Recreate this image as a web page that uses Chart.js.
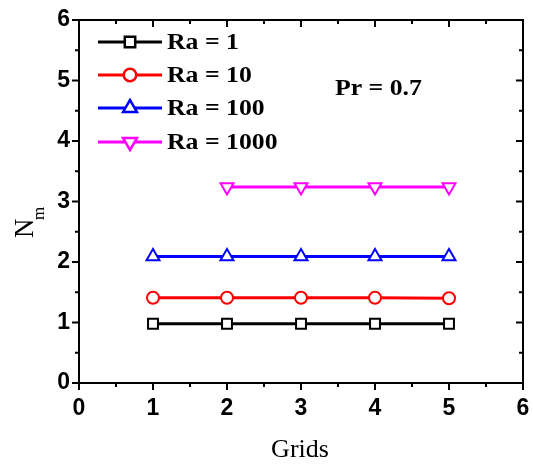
<!DOCTYPE html>
<html>
<head>
<meta charset="utf-8">
<script src="https://cdn.jsdelivr.net/npm/chart.js@4/dist/chart.umd.min.js"></script>
<style>
  html, body { margin: 0; padding: 0; background: #fff; }
  #wrap { width: 533px; height: 465px; }
</style>
</head>
<body>
<div id="wrap"><canvas id="chart" width="533" height="465"></canvas></div>
<script>
// data
const gridsA = [1, 2, 3, 4, 5];
const gridsB = [2, 3, 4, 5];
const ra1 = [0.98, 0.98, 0.98, 0.98, 0.98];
const ra10 = [1.41, 1.41, 1.41, 1.41, 1.40];
const ra100 = [2.09, 2.09, 2.09, 2.09, 2.09];
const ra1000 = [3.24, 3.24, 3.24, 3.24];
const seriesNames = ["Ra = 1", "Ra = 10", "Ra = 100", "Ra = 1000"];
const xTicks = [0, 1, 2, 3, 4, 5, 6];
const yTicks = [0, 1, 2, 3, 4, 5, 6];

const serif = "'Liberation Serif', 'Times New Roman', serif";
const sans = "'Liberation Sans', Arial, sans-serif";

function pts(xs, ys) {
  return xs.map((x, i) => ({ x: x, y: ys[i] }));
}

function series(label, xs, ys, color, style, radius, rot) {
  return {
    label: label,
    data: pts(xs, ys),
    borderColor: color,
    borderWidth: 3,
    pointStyle: style,
    pointRadius: radius,
    pointRotation: rot,
    pointBackgroundColor: "#fff",
    pointBorderColor: color,
    pointBorderWidth: 2,
    tension: 0,
  };
}

// text a little wider than the font, like the stretched original
function wideText(ctx, text, x, y) {
  ctx.save();
  ctx.translate(x, y);
  ctx.scale(1.12, 1);
  ctx.fillText(text, 0, 0);
  ctx.restore();
}

// frame, ticks, legend and annotation
const decor = {
  id: "decor",
  afterDraw(chart) {
    const ctx = chart.ctx;
    const a = chart.chartArea;
    const sx = chart.scales.x;
    const sy = chart.scales.y;
    ctx.save();
    ctx.strokeStyle = "#000";
    ctx.lineWidth = 2;
    ctx.strokeRect(a.left, a.top, a.right - a.left, a.bottom - a.top);

    ctx.beginPath();
    for (let v = 0; v <= 6; v += 0.5) {
      const len = Number.isInteger(v) ? 7 : 4;
      const px = sx.getPixelForValue(v);
      ctx.moveTo(px, a.bottom);
      ctx.lineTo(px, a.bottom + len);
      ctx.moveTo(px, a.top);
      ctx.lineTo(px, a.top + len);
      const py = sy.getPixelForValue(v);
      ctx.moveTo(a.left, py);
      ctx.lineTo(a.left - len, py);
      ctx.moveTo(a.right, py);
      ctx.lineTo(a.right - len, py);
    }
    ctx.stroke();

    // legend
    const rows = [42, 75, 108, 142];
    chart.data.datasets.forEach((ds, i) => {
      const y = rows[i];
      ctx.strokeStyle = ds.borderColor;
      ctx.lineWidth = 3;
      ctx.beginPath();
      ctx.moveTo(98, y);
      ctx.lineTo(162, y);
      ctx.stroke();
      Chart.helpers.drawPoint(ctx, {
        pointStyle: ds.pointStyle,
        radius: ds.pointRadius,
        rotation: ds.pointRotation,
        borderWidth: 2,
      }, 130, y);
      ctx.fillStyle = "#fff";
      ctx.strokeStyle = ds.borderColor;
      ctx.lineWidth = 2;
      ctx.fill();
      ctx.stroke();
      ctx.fillStyle = "#000";
      ctx.font = "bold 23px " + serif;
      ctx.textAlign = "left";
      ctx.textBaseline = "middle";
      wideText(ctx, ds.label, 167, y + 1);
    });

    ctx.fillStyle = "#000";
    ctx.font = "bold 23px " + serif;
    ctx.textAlign = "left";
    ctx.textBaseline = "middle";
    wideText(ctx, "Pr = 0.7", 335, 89);

    // axis titles
    ctx.font = "26px " + serif;
    ctx.textAlign = "center";
    ctx.textBaseline = "alphabetic";
    ctx.fillText("Grids", 300, 457);

    ctx.translate(33, 238);
    ctx.rotate(-Math.PI / 2);
    ctx.textAlign = "left";
    ctx.font = "27px " + serif;
    ctx.fillText("N", 0, 0);
    ctx.font = "17px " + serif;
    ctx.fillText("m", 18, 11);
    ctx.restore();
  },
};

const chart = new Chart(document.getElementById("chart").getContext("2d"), {
  type: "line",
  data: {
    datasets: [
      series(seriesNames[0], gridsA, ra1, "#000000", "rect", 7, 0),
      series(seriesNames[1], gridsA, ra10, "#ff0000", "circle", 6, 0),
      series(seriesNames[2], gridsA, ra100, "#0000ff", "triangle", 7.5, 0),
      series(seriesNames[3], gridsB, ra1000, "#ff00ff", "triangle", 7.5, 180),
    ],
  },
  options: {
    responsive: false,
    animation: false,
    layout: { padding: { left: 0, right: 10, top: 20, bottom: 0 } },
    plugins: { legend: { display: false }, tooltip: { enabled: false } },
    scales: {
      x: {
        type: "linear",
        min: 0,
        max: 6,
        afterBuildTicks: (s) => { s.ticks = xTicks.map((v) => ({ value: v })); },
        afterFit: (s) => { s.height = 82; s.paddingLeft = 0; s.paddingRight = 0; },
        grid: { display: false, drawTicks: false },
        border: { display: false },
        ticks: {
          color: "#000",
          padding: 12,
          font: { family: sans, size: 23, weight: "bold" },
        },
      },
      y: {
        min: 0,
        max: 6,
        afterBuildTicks: (s) => { s.ticks = yTicks.map((v) => ({ value: v })); },
        afterFit: (s) => { s.width = 79; s.paddingTop = 0; s.paddingBottom = 0; },
        grid: { display: false, drawTicks: false },
        border: { display: false },
        ticks: {
          color: "#000",
          padding: 9,
          font: { family: sans, size: 23, weight: "bold" },
        },
      },
    },
  },
  plugins: [decor],
});
</script>
</body>
</html>
